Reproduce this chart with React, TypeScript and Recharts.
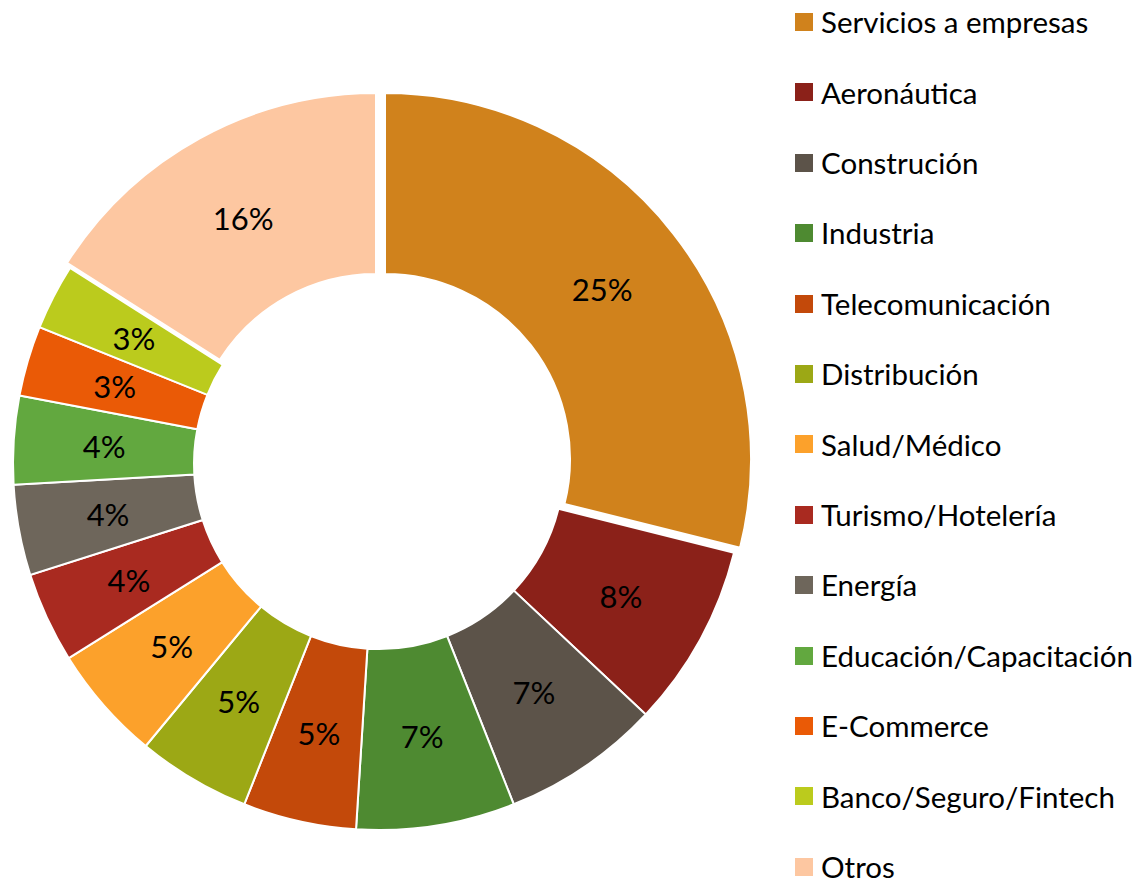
import { PieChart, Pie, Cell, Legend } from 'recharts';

const CATEGORIES = [
  'Servicios a empresas',
  'Aeronáutica',
  'Construción',
  'Industria',
  'Telecomunicación',
  'Distribución',
  'Salud/Médico',
  'Turismo/Hotelería',
  'Energía',
  'Educación/Capacitación',
  'E-Commerce',
  'Banco/Seguro/Fintech',
  'Otros',
];
// share of the ring as drawn (angle / 360)
const SHARES = [28.9, 8.1, 7.0, 7.0, 5.0, 5.0, 5.1, 4.0, 4.0, 3.9, 3.1, 2.9, 16.0];
// labels as printed on the slices
const LABELS = ['25%', '8%', '7%', '7%', '5%', '5%', '5%', '4%', '4%', '4%', '3%', '3%', '16%'];
const COLORS = [
  '#D0821C',
  '#8B2119',
  '#5C5349',
  '#4E8A31',
  '#C3490A',
  '#9CA815',
  '#FCA12B',
  '#A92A20',
  '#6E665B',
  '#62A83F',
  '#EA5A06',
  '#BBCB1D',
  '#FDC7A1',
];

const data = CATEGORIES.map((name, i) => ({ name, value: SHARES[i] }));

const FONT = 'Lato, "Open Sans", sans-serif';
const CX = 379;
const CY = 464;
const R_OUT = 366;
const R_IN = 185;
const RAD = Math.PI / 180;

// pulled-out slices: index -> offset
const EXPLODE: Record<number, [number, number]> = { 0: [6, -5], 12: [-3, -5] };

const makeLabel = (show: (i: number) => boolean) => (p: any) => {
  if (!show(p.index)) return null;
  const r = (p.innerRadius + p.outerRadius) / 2;
  const x = p.cx + r * Math.cos(-p.midAngle * RAD);
  const y = p.cy + r * Math.sin(-p.midAngle * RAD);
  return (
    <text
      key={`l-${p.index}`}
      x={x}
      y={y}
      textAnchor="middle"
      dominantBaseline="central"
      fill="#000"
      fontSize={31}
      fontFamily={FONT}
    >
      {LABELS[p.index]}
    </text>
  );
};

const renderLegend = () => (
  <div style={{ position: 'relative', width: 341, height: 887 }}>
    {CATEGORIES.map((c, i) => (
      <div
        key={c}
        style={{
          position: 'absolute',
          left: 0,
          top: 22 + i * 70.4 - 14.5,
          height: 29,
          display: 'flex',
          alignItems: 'center',
          whiteSpace: 'nowrap',
        }}
      >
        <span style={{ width: 18, height: 18, background: COLORS[i], display: 'inline-block' }} />
        <span style={{ marginLeft: 8, fontSize: 29.5, lineHeight: 1, fontFamily: FONT, color: '#000' }}>{c}</span>
      </div>
    ))}
  </div>
);

export default function App() {
  const pies = [
    { key: 'base', cx: CX, cy: CY, show: (i: number) => !(i in EXPLODE) },
    ...Object.keys(EXPLODE).map((k) => {
      const idx = Number(k);
      const [dx, dy] = EXPLODE[idx];
      return { key: `ex-${idx}`, cx: CX + dx, cy: CY + dy, show: (i: number) => i === idx };
    }),
  ];

  return (
    <div style={{ position: 'absolute', left: 0, top: 0, width: 1136, height: 887, background: '#fff' }}>
      <PieChart width={1136} height={887} margin={{ top: 0, right: 0, bottom: 0, left: 0 }}>
        {pies.map((p) => (
          <Pie
            key={p.key}
            data={data}
            dataKey="value"
            nameKey="name"
            cx={p.cx}
            cy={p.cy}
            innerRadius={R_IN}
            outerRadius={R_OUT}
            startAngle={90}
            endAngle={-270}
            isAnimationActive={false}
            labelLine={false}
            label={makeLabel(p.show)}
          >
            {data.map((d, i) => (
              <Cell
                key={d.name}
                fill={p.show(i) ? COLORS[i] : 'transparent'}
                stroke={p.show(i) ? '#fff' : 'none'}
                strokeWidth={2}
              />
            ))}
          </Pie>
        ))}
        <Legend
          layout="vertical"
          verticalAlign="top"
          align="right"
          content={renderLegend}
          wrapperStyle={{ left: 795, top: 0, width: 341, height: 887 }}
        />
      </PieChart>
    </div>
  );
}
